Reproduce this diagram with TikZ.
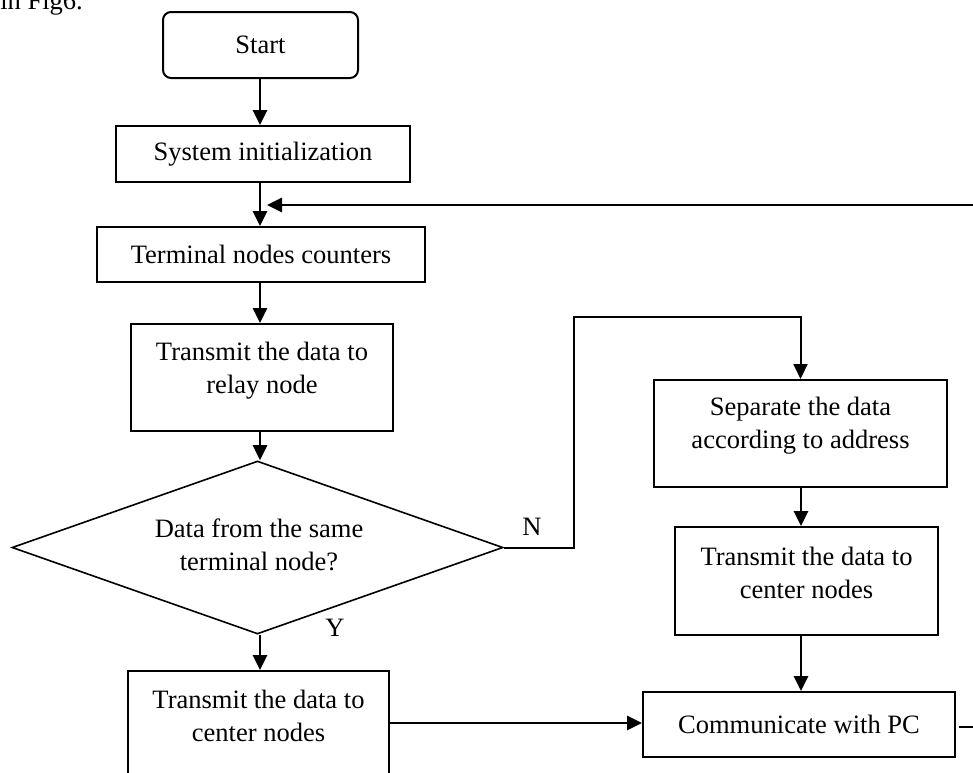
\documentclass[tikz,border=0pt]{standalone}
\usepackage{fontspec}
\setmainfont{Liberation Serif}
\usetikzlibrary{arrows.meta,shapes.geometric,calc}
\begin{document}
\begin{tikzpicture}[x=0.75pt,y=-0.75pt,
  font=\fontsize{19.9pt}{24.75pt}\selectfont,
  box/.style={draw,line width=1.5pt,rectangle,inner sep=0pt},
  txt/.style={align=center,inner sep=0pt},
  arr/.style={line width=2pt,-{Triangle[length=11.25pt,width=10.5pt]}},
  conn/.style={line width=1.5pt}]
\useasboundingbox (0,0) rectangle (973,772);
\clip (0,0) rectangle (973,772);

% partial caption text at top (cut off by the frame, as in the reference)
\node[anchor=base west,inner sep=0pt] (figref) at (0,9) {in Fig6.};

% left column
\coordinate (colL) at (260,0);
\node[box,rounded corners=6pt,minimum width=146.25pt,minimum height=49.5pt] (start) at (260.5,45) {Start};
\node[box,minimum width=220.5pt,minimum height=42pt] (sys) at (263,154) {System initialization};
\node[box,minimum width=246pt,minimum height=41.25pt] (term) at (261,254.5) {Terminal nodes counters};
\node[box,minimum width=196.5pt,minimum height=80.25pt] (relay) at (262,377.5) {};
\node[txt] (relayT) at (262,370.5) {Transmit the data to\\relay node};
\node[draw,diamond,line width=1.2pt,inner sep=0pt,aspect=2.84,minimum width=368.25pt,minimum height=129.75pt] (dia) at (257.5,547.5) {};
\node[txt] (diaT) at (259,544.5) {Data from the same\\terminal node?};
\node[box,minimum width=195.75pt,minimum height=111.75pt] (lbox) at (258.5,745.5) {};
\node[txt] (lboxT) at (258.5,715.5) {Transmit the data to\\center nodes};

% right column
\node[box,minimum width=219.75pt,minimum height=80.25pt] (sep) at (800.5,433.5) {};
\node[txt] (sepT) at (800.5,425.5) {Separate the data\\according to address};
\node[box,minimum width=197.25pt,minimum height=81pt] (rt) at (806.5,581) {};
\node[txt] (rtT) at (806.5,572.5) {Transmit the data to\\center nodes};
\node[box,minimum width=234pt,minimum height=48.75pt] (comm) at (799,724.5) {Communicate with PC};

% labels
\node[inner sep=0pt] (nlab) at (532,527) {N};
\node[inner sep=0pt] (ylab) at (335,628) {Y};

% connectors
\draw[arr] (colL |- start.south) -- (colL |- sys.north);
\draw[arr] (colL |- sys.south) -- (colL |- term.north);
\draw[arr] (colL |- term.south) -- (colL |- relay.north);
\draw[arr] (colL |- relay.south) -- (colL |- dia.north);
\draw[arr] (colL |- dia.south) -- (colL |- lbox.north);

\coordinate (fbR) at (973,205);
\coordinate (fbL) at (267,205);
\draw[arr] (fbR) -- (fbL);

\coordinate (nup) at (574,317);
\draw[arr,line width=1.5pt] (dia.east) -| (nup) -| (sep.north);

\coordinate (colR) at (801,0);
\draw[arr] (colR |- sep.south) -- (colR |- rt.north);
\draw[arr] (colR |- rt.south) -- (colR |- comm.north);

\coordinate (hrow) at (0,723);
\draw[arr] (lbox.east |- hrow) -- (comm.west |- hrow);

\coordinate (pcR) at (973,727);
\draw[conn] ([xshift=2.25pt]comm.east |- pcR) -- (pcR);
\end{tikzpicture}
\end{document}
